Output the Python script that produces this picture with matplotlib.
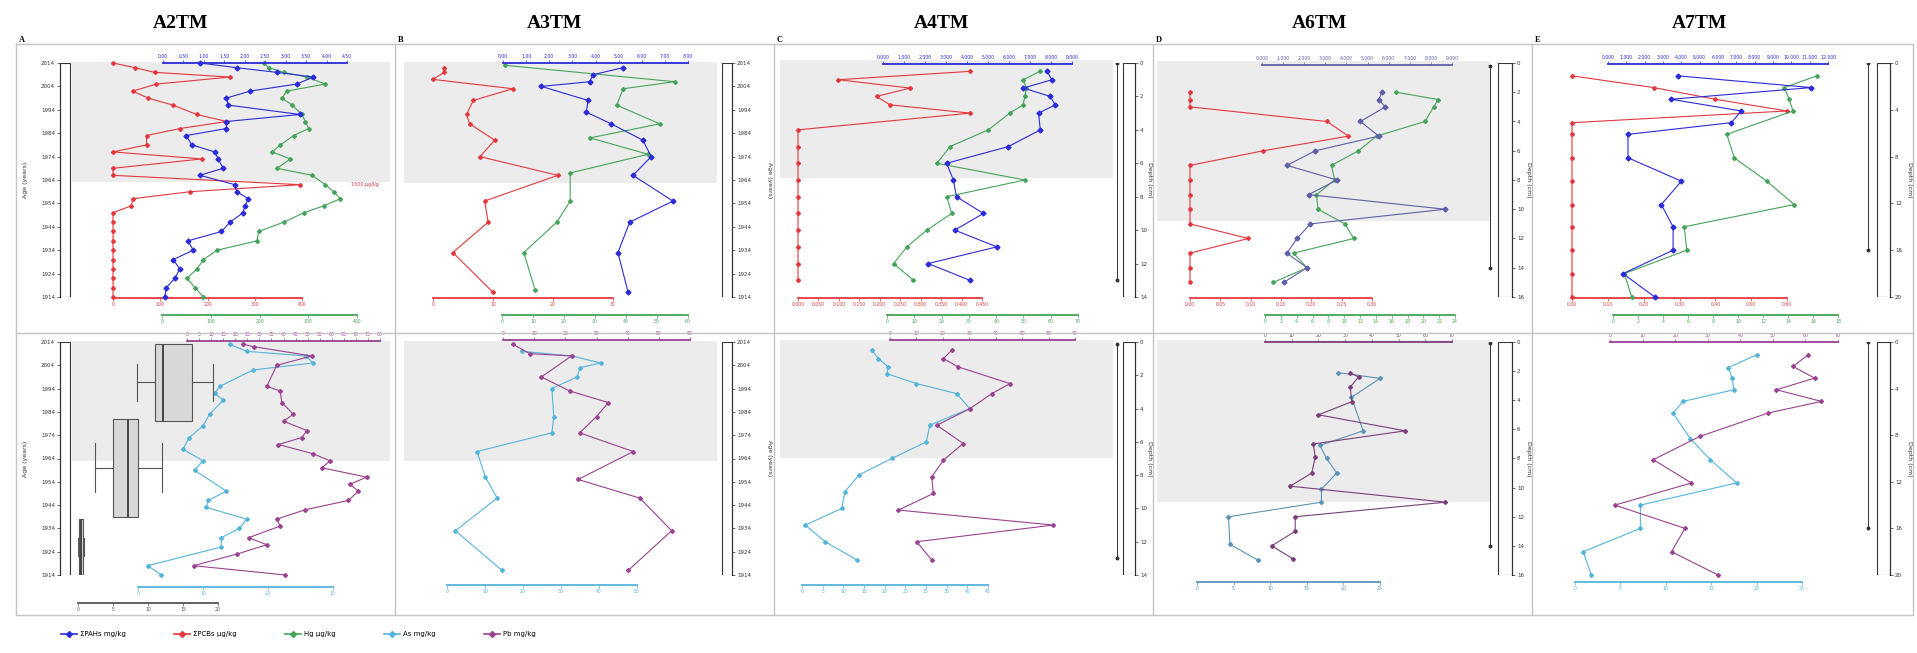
import numpy as np
import matplotlib.pyplot as plt
from matplotlib.lines import Line2D
from matplotlib.patches import Rectangle

# ---- data ----
PANEL_TITLES = ["A2TM", "A3TM", "A4TM", "A6TM", "A7TM"]
PANEL_LETTERS = ["A", "B", "C", "D", "E"]
LEGEND_LABELS = ["\u03a3PAHs mg/kg", "\u03a3PCBs \u03bcg/kg", "Hg \u03bcg/kg", "As mg/kg", "Pb mg/kg"]

AGE_TICKS = list(range(2014, 1913, -10))

# A2TM top (age)
A_TOP_AGE = [2014, 2012, 2010, 2008, 2005, 2002, 1999, 1996, 1992, 1989, 1986, 1983, 1979, 1976, 1973, 1969,
             1966, 1962, 1959, 1956, 1953, 1950, 1946, 1942, 1938, 1934, 1930, 1926, 1922, 1918, 1914]
A_TOP_PAH = [0.90, 1.80, 2.78, 3.68, 3.27, 2.13, 1.55, 1.60, 3.35, 1.55, 1.55, 0.57, 0.70, 1.27, 1.35, 1.47,
             0.90, 1.76, 1.80, 2.09, 2.00, 1.96, 1.64, 1.43, 0.61, 0.74, 0.25, 0.41, 0.29, 0.08, 0.04]
A_TOP_PCB = [0, 46, 88, 248, 92, 42, 74, 127, 177, 241, 142, 71, 71, 0, 188, 0,
             0, 396, 163, 42, 39, 0, 0, 0, 0, 0, 0, 0, 0, 0, 0]
A_TOP_HG = [209, 219, 250, 297, 335, 256, 246, 267, 287, 294, 301, 270, 243, 226, 263, 236,
            308, 335, 352, 366, 332, 291, 250, 198, 195, 113, 85, 72, 51, 68, 85]

# A2TM bottom (age)
A_BOT_PB_AGE = [2013, 2012, 2008, 2004, 1995, 1993, 1988, 1983, 1980, 1976, 1973, 1970, 1966, 1963,
                1960, 1956, 1953, 1950, 1946, 1942, 1938, 1935, 1930, 1927, 1923, 1918, 1914]
A_BOT_PB = [23.4, 27.6, 51.7, 37.2, 33.1, 38.6, 39.3, 44.1, 40.0, 49.7, 47.6, 37.9, 52.4, 59.3,
            55.9, 74.5, 67.6, 71.0, 66.9, 49.0, 37.2, 38.6, 25.5, 33.1, 20.7, 2.8, 40.7]
A_BOT_AS_AGE = [2013, 2010, 2008, 2005, 2002, 1995, 1992, 1989, 1983, 1978, 1973, 1968, 1963, 1959,
                1950, 1946, 1943, 1938, 1934, 1930, 1926, 1918, 1914]
A_BOT_AS = [14.1, 16.7, 25.9, 26.9, 17.7, 12.6, 11.8, 13.1, 11.0, 10.0, 7.9, 6.9, 10.0, 8.7,
            13.6, 10.8, 10.5, 16.7, 15.6, 12.8, 12.8, 1.5, 3.6]
A_BOX_AGE = [1996.7, 1960.0, 1926.0]
A_BOX_MED = [12.1, 7.1, 0.4]
A_BOX_Q1 = [11.0, 5.0, 0.1]
A_BOX_Q3 = [16.3, 8.6, 0.7]
A_BOX_LO = [8.4, 2.4, 0.0]
A_BOX_HI = [19.3, 12.0, 0.8]

# A3TM top (age)
B_TOP_PAH_AGE = [2012, 2009, 2006, 2004, 1998, 1993, 1988, 1981, 1974, 1966, 1955, 1946, 1933, 1916]
B_TOP_PAH = [5.19, 3.89, 3.75, 1.66, 3.68, 3.60, 4.68, 6.05, 6.41, 5.62, 7.35, 5.48, 4.97, 5.41]
B_TOP_HG_AGE = [2013, 2006, 2003, 1996, 1988, 1982, 1975, 1967, 1955, 1946, 1933, 1917]
B_TOP_HG = [1.1, 55.7, 39.1, 37.0, 50.9, 28.4, 47.1, 22.0, 22.0, 17.7, 7.0, 10.7]
B_TOP_PCB_AGE = [2012, 2010, 2007, 2003, 1998, 1992, 1988, 1981, 1974, 1966, 1955, 1946, 1933, 1916]
B_TOP_PCB = [1.9, 1.9, 0.0, 13.3, 6.7, 5.6, 6.1, 10.3, 7.8, 20.8, 8.6, 9.2, 3.3, 10.0]

# A3TM bottom (age)
B_BOT_PB_AGE = [2013, 2009, 2008, 1999, 1993, 1988, 1982, 1975, 1967, 1955, 1947, 1933, 1916]
B_BOT_PB = [3.2, 8.6, 22.0, 12.3, 21.4, 33.8, 30.0, 24.6, 41.8, 24.1, 43.9, 54.1, 40.2]
B_BOT_AS_AGE = [2010, 2008, 2005, 2003, 1999, 1994, 1982, 1975, 1967, 1956, 1947, 1933, 1916]
B_BOT_AS = [19.7, 32.9, 40.4, 35.1, 34.2, 27.6, 28.1, 27.6, 7.9, 10.1, 13.2, 2.2, 14.5]

# A4TM top (depth, cm)
C_TOP_DEPTH = [0.5, 1.0, 1.5, 2.0, 2.5, 3.0, 4.0, 5.0, 6.0, 7.0, 8.0, 9.0, 10.0, 11.0, 12.0, 13.0]
C_TOP_PAH = [7.81, 8.04, 6.69, 7.96, 8.20, 7.41, 7.49, 5.97, 3.03, 3.35, 3.50, 4.78, 3.42, 5.42, 2.15, 4.14]
C_TOP_HG = [56.0, 49.9, 51.1, 50.5, 49.9, 45.0, 37.1, 23.1, 18.3, 50.5, 21.9, 23.7, 14.6, 7.3, 2.4, 9.7]
C_TOP_PCB = [0.421, 0.098, 0.274, 0.192, 0.225, 0.421, 0, 0, 0, 0, 0, 0, 0, 0, 0, 0]

# A4TM bottom (depth)
C_BOT_PB_DEPTH = [0.5, 1.0, 1.5, 2.5, 3.1, 4.0, 5.0, 6.1, 7.1, 8.1, 9.1, 10.1, 11.0, 12.0, 13.1]
C_BOT_PB = [23.3, 20.2, 25.9, 45.4, 38.5, 30.3, 17.7, 27.7, 20.2, 15.8, 16.4, 3.2, 61.8, 10.1, 15.8]
C_BOT_AS_DEPTH = [0.5, 1.0, 1.5, 1.9, 2.5, 3.1, 4.0, 5.0, 6.0, 7.0, 8.0, 9.0, 10.0, 11.0, 12.0, 13.1]
C_BOT_AS = [16.9, 18.5, 20.9, 20.5, 27.7, 37.4, 40.6, 30.9, 30.1, 21.7, 13.7, 10.4, 9.6, 0.8, 5.6, 13.3]

# A6TM top (depth)
D_TOP_DEPTH = [2.0, 2.5, 3.0, 4.0, 5.0, 6.0, 7.0, 8.0, 9.0, 10.0, 11.0, 12.0, 13.0, 14.0, 15.0]
D_TOP_PAH = [5.68, 5.53, 5.84, 4.66, 5.53, 2.53, 1.18, 3.55, 2.21, 8.68, 2.29, 1.66, 1.18, 2.13, 1.03]
D_TOP_HG = [16.6, 21.9, 21.3, 20.2, 14.1, 11.8, 8.4, 8.8, 6.5, 6.7, 10.1, 11.2, 3.6, 5.3, 1.05]
D_TOP_PCB = [0, 0, 0, 0.226, 0.261, 0.121, 0, 0, 0, 0, 0, 0.096, 0, 0, 0]

# A6TM bottom (depth)
D_BOT_PB_DEPTH = [2.1, 2.4, 3.1, 4.1, 5.0, 6.1, 7.0, 7.9, 9.0, 9.9, 11.0, 12.0, 13.0, 14.0, 14.9]
D_BOT_PB = [31.9, 35.0, 31.9, 32.5, 20.0, 52.5, 18.1, 18.8, 17.5, 9.4, 67.5, 11.3, 11.3, 2.5, 10.6]
D_BOT_AS_DEPTH = [2.1, 2.5, 3.8, 6.1, 7.1, 8.0, 9.0, 10.1, 11.0, 12.0, 13.9, 15.0]
D_BOT_AS = [19.3, 25.0, 21.1, 22.7, 16.8, 17.7, 19.1, 17.0, 17.0, 4.3, 4.5, 8.4]

# A7TM top (depth)
E_TOP_DEPTH = [1.1, 2.1, 3.1, 4.1, 5.1, 6.1, 8.1, 10.1, 12.1, 14.0, 16.0, 18.0, 20.0]
E_TOP_PAH = [3.82, 11.09, 3.45, 7.27, 6.73, 1.09, 1.09, 4.00, 2.91, 3.55, 3.55, 0.82, 2.55]
E_TOP_PCB = [0, 0.228, 0.40, 0.60, 0, 0, 0, 0, 0, 0, 0, 0, 0]
E_TOP_HG_DEPTH = [1.1, 2.1, 3.1, 4.1, 6.1, 8.1, 10.1, 12.1, 14.0, 16.0, 18.0, 20.0]
E_TOP_HG = [16.3, 13.7, 14.1, 14.4, 9.1, 9.7, 12.3, 14.5, 5.7, 5.9, 0.9, 1.5]

# A7TM bottom (depth)
E_BOT_PB_DEPTH = [1.1, 2.1, 3.1, 4.1, 5.1, 6.1, 8.1, 10.1, 12.1, 14.0, 16.0, 18.0, 20.0]
E_BOT_PB = [60.8, 56.2, 62.8, 51.1, 64.9, 48.5, 27.6, 13.3, 25.0, 1.5, 23.0, 18.9, 33.2]
E_BOT_AS_DEPTH = [1.1, 2.2, 3.1, 4.1, 5.1, 6.1, 8.3, 10.1, 12.1, 14.0, 16.0, 18.0, 20.0]
E_BOT_AS = [20.0, 16.9, 17.3, 17.5, 11.9, 10.8, 12.7, 14.9, 17.8, 7.2, 7.2, 0.9, 1.8]

# shaded (recent) interval limits per panel, top and bottom rows
SHADE_TOP = [1963, 1962.6, 6.9, 10.8, None]
SHADE_BOT = [1963, 1963, 7.0, 11.0, None]

# ---- styling / layout ----
W, H = 1917, 653
C_PAH = "#2b2bd9"
C_PCB = "#e5383e"
C_HG = "#46a35a"
C_AS = "#55b4da"
C_PB = "#9b4290"
SHADE = "#ececec"
FRAME = "#c4c4c4"
TOP_ROW = (63, 297)
BOT_ROW = (342, 575)

fig = plt.figure(figsize=(W / 100, H / 100), dpi=100)


def px_axes(x0, y0, x1, y1):
    return fig.add_axes([x0 / W, 1 - y1 / H, (x1 - x0) / W, (y1 - y0) / H])


def fig_line(xs, ys, **kw):
    fig.add_artist(Line2D([x / W for x in xs], [1 - y / H for y in ys],
                          transform=fig.transFigure, **kw))


def series(row, ylim, x0, x1, axis_y, side, xmax, step, fmt, color, y=None, v=None, ms=2.0):
    top, bot = row
    ax = px_axes(x0, top, x1, bot)
    ax.set_xlim(0, xmax)
    ax.set_ylim(*ylim)
    ax.patch.set_visible(False)
    for s in ax.spines.values():
        s.set_visible(False)
    ax.set_yticks([])
    sp = ax.spines[side]
    sp.set_visible(True)
    sp.set_position(("axes", (bot - axis_y) / (bot - top)))
    sp.set_color(color)
    sp.set_linewidth(1.3)
    ax.xaxis.set_ticks_position(side)
    ticks = np.arange(0, xmax + step / 2, step)
    ax.set_xticks(ticks)
    ax.set_xticklabels([fmt % t for t in ticks])
    ax.tick_params(axis="x", length=2, width=0.5, color=color, labelsize=3.3,
                   labelcolor=color, pad=1)
    if y is not None:
        ax.plot(v, y, "-D", color=color, ms=ms, lw=0.8, mec=color, clip_on=False)
    return ax


def cell(row, cx0, cx1, ylim, yticks, spine_x, side, bar, shade_lim, shade_x,
         ylabel, ylabel_x, rng=None, rng_x=None):
    top, bot = row
    ax = px_axes(cx0, top, cx1, bot)
    ax.set_xlim(cx0, cx1)
    ax.set_ylim(*ylim)
    ax.patch.set_visible(False)
    for s in ax.spines.values():
        s.set_visible(False)
    ax.set_xticks([])
    ylo, yhi = min(ylim), max(ylim)
    if shade_lim is not None:
        if ylim[0] < ylim[1]:  # age axis, recent years on top
            ax.add_patch(Rectangle((shade_x[0], shade_lim), shade_x[1] - shade_x[0],
                                   yhi - shade_lim + 0.6, color=SHADE, lw=0, zorder=0, clip_on=False))
        else:
            ax.add_patch(Rectangle((shade_x[0], -0.15), shade_x[1] - shade_x[0],
                                   shade_lim + 0.15, color=SHADE, lw=0, zorder=0, clip_on=False))
    ax.add_patch(Rectangle((bar[0], ylo), bar[1] - bar[0], yhi - ylo, fill=False,
                           ec="#333333", lw=0.8, zorder=3))
    sp = ax.spines[side]
    sp.set_visible(True)
    sp.set_position(("data", spine_x))
    sp.set_linewidth(0.8)
    ax.yaxis.set_ticks_position(side)
    ax.set_yticks(yticks)
    ax.set_yticklabels([str(t) for t in yticks])
    ax.tick_params(axis="y", length=2, width=0.5, labelsize=4, pad=1.5, colors="#333333")
    if rng is not None:
        ax.plot([rng_x, rng_x], rng, "-o", color="#333333", lw=0.7, ms=1.8)
    rot = 90 if side == "left" else 270
    fig.text(ylabel_x / W, 1 - (top + bot) / 2 / H, ylabel, rotation=rot, fontsize=4.5,
             ha="center", va="center", color="#333333")
    return ax


AGE_LIM = (1914, 2014)
COLS = [(16, 395), (395, 774), (774, 1153), (1153, 1532), (1532, 1913)]

# ---------------- Panel A: A2TM ----------------
for row, lim in [(TOP_ROW, SHADE_TOP[0]), (BOT_ROW, SHADE_BOT[0])]:
    cell(row, 16, 395, AGE_LIM, AGE_TICKS, 60, "left", (60, 70), lim, (72, 390), "Age (years)", 25)
series(TOP_ROW, AGE_LIM, 113, 302, 298, "bottom", 400, 100, "%d", C_PCB, A_TOP_AGE, A_TOP_PCB)
series(TOP_ROW, AGE_LIM, 162, 357, 315, "bottom", 400, 100, "%d", C_HG, A_TOP_AGE, A_TOP_HG)
axp = series(TOP_ROW, AGE_LIM, 163, 347, 63, "top", 4.5, 0.5, "%.2f", C_PAH, A_TOP_AGE, A_TOP_PAH, ms=2.5)
axp.annotate("1500 \u03bcg/kg", xy=(4.5, A_TOP_AGE[A_TOP_PCB.index(max(A_TOP_PCB))]),
             fontsize=3.5, color=C_PCB, va="center", xytext=(3, 0), textcoords="offset points")
series(BOT_ROW, AGE_LIM, 138, 333, 587, "bottom", 30, 10, "%d", C_AS, A_BOT_AS_AGE, A_BOT_AS)
series(BOT_ROW, AGE_LIM, 187, 380, 341, "top", 80, 5, "%d", C_PB, A_BOT_PB_AGE, A_BOT_PB)
axb = series(BOT_ROW, AGE_LIM, 78, 218, 603, "bottom", 20, 5, "%d", "#555555")
stats = [dict(med=m, q1=a, q3=b, whislo=lo, whishi=hi)
         for m, a, b, lo, hi in zip(A_BOX_MED, A_BOX_Q1, A_BOX_Q3, A_BOX_LO, A_BOX_HI)]
bkw = dict(positions=A_BOX_AGE, widths=[33, 42, 24], capwidths=[16, 21, 8], patch_artist=True,
           showfliers=False, manage_ticks=False,
           boxprops=dict(facecolor="#d8d8d8", edgecolor="#555555", lw=0.8),
           medianprops=dict(color="#444444", lw=1.4),
           whiskerprops=dict(color="#555555", lw=0.8), capprops=dict(color="#555555", lw=0.8))
try:
    axb.bxp(stats, orientation="horizontal", **bkw)
except TypeError:
    axb.bxp(stats, vert=False, **bkw)
axb.set_ylim(*AGE_LIM)
axb.set_yticks([])

# ---------------- Panel B: A3TM ----------------
for row, lim in [(TOP_ROW, SHADE_TOP[1]), (BOT_ROW, SHADE_BOT[1])]:
    cell(row, 395, 774, AGE_LIM, AGE_TICKS, 732, "right", (722, 732), lim, (404, 717), "Age (years)", 769)
series(TOP_ROW, AGE_LIM, 433, 613, 298, "bottom", 30, 10, "%d", C_PCB, B_TOP_PCB_AGE, B_TOP_PCB)
series(TOP_ROW, AGE_LIM, 502, 688, 315, "bottom", 60, 10, "%d", C_HG, B_TOP_HG_AGE, B_TOP_HG)
series(TOP_ROW, AGE_LIM, 503, 688, 63, "top", 8, 1, "%.2f", C_PAH, B_TOP_PAH_AGE, B_TOP_PAH, ms=2.5)
series(BOT_ROW, AGE_LIM, 447, 637, 585, "bottom", 50, 10, "%d", C_AS, B_BOT_AS_AGE, B_BOT_AS)
series(BOT_ROW, AGE_LIM, 503, 690, 340, "top", 60, 10, "%d", C_PB, B_BOT_PB_AGE, B_BOT_PB)

# ---------------- Panel C: A4TM ----------------
C_LIM = (14, 0)
for row, lim, rng in [(TOP_ROW, SHADE_TOP[2], (0, 13)), (BOT_ROW, SHADE_BOT[2], (0.1, 13))]:
    cell(row, 774, 1153, C_LIM, list(range(0, 15, 2)), 1135, "right", (1123, 1135), lim, (780, 1113),
         "Depth (cm)", 1149, rng, 1117)
series(TOP_ROW, C_LIM, 798, 982, 298, "bottom", 0.45, 0.05, "%.3f", C_PCB, C_TOP_DEPTH, C_TOP_PCB)
series(TOP_ROW, C_LIM, 887, 1078, 315, "bottom", 70, 10, "%d", C_HG, C_TOP_DEPTH, C_TOP_HG)
series(TOP_ROW, C_LIM, 883, 1072, 64, "top", 9, 1, "%.3f", C_PAH, C_TOP_DEPTH, C_TOP_PAH, ms=2.5)
series(BOT_ROW, C_LIM, 802, 988, 585, "bottom", 45, 5, "%d", C_AS, C_BOT_AS_DEPTH, C_BOT_AS)
series(BOT_ROW, C_LIM, 890, 1075, 340, "top", 70, 10, "%d", C_PB, C_BOT_PB_DEPTH, C_BOT_PB)

# ---------------- Panel D: A6TM ----------------
D_LIM = (16, 0)
for row, lim, rng in [(TOP_ROW, SHADE_TOP[3], (0.2, 14)), (BOT_ROW, SHADE_BOT[3], (0.1, 14))]:
    cell(row, 1153, 1532, D_LIM, list(range(0, 17, 2)), 1512, "right", (1498, 1512), lim, (1157, 1490),
         "Depth (cm)", 1528, rng, 1490)
series(TOP_ROW, D_LIM, 1190, 1372, 298, "bottom", 0.30, 0.05, "%.2f", C_PCB, D_TOP_DEPTH, D_TOP_PCB)
series(TOP_ROW, D_LIM, 1265, 1455, 315, "bottom", 24, 2, "%d", C_HG, D_TOP_DEPTH, D_TOP_HG)
series(TOP_ROW, D_LIM, 1262, 1452, 65, "top", 9, 1, "%.3f", "#5f5fa8", D_TOP_DEPTH, D_TOP_PAH, ms=2.5)
series(BOT_ROW, D_LIM, 1197, 1380, 582, "bottom", 25, 5, "%d", "#5a93b8", D_BOT_AS_DEPTH, D_BOT_AS)
series(BOT_ROW, D_LIM, 1265, 1452, 342, "top", 70, 10, "%d", "#7a3f7a", D_BOT_PB_DEPTH, D_BOT_PB)

# ---------------- Panel E: A7TM ----------------
E_LIM = (20, 0)
for row, lim, rng in [(TOP_ROW, SHADE_TOP[4], (0, 16)), (BOT_ROW, SHADE_BOT[4], (0, 16))]:
    cell(row, 1532, 1913, E_LIM, list(range(0, 21, 4)), 1890, "right", (1877, 1890), lim, None,
         "Depth (cm)", 1909, rng, 1868)
series(TOP_ROW, E_LIM, 1572, 1787, 298, "bottom", 0.6, 0.1, "%.2f", C_PCB, E_TOP_DEPTH, E_TOP_PCB)
series(TOP_ROW, E_LIM, 1613, 1838, 315, "bottom", 18, 2, "%d", C_HG, E_TOP_HG_DEPTH, E_TOP_HG)
series(TOP_ROW, E_LIM, 1608, 1828, 64, "top", 12, 1, "%.3f", C_PAH, E_TOP_DEPTH, E_TOP_PAH, ms=2.5)
series(BOT_ROW, E_LIM, 1575, 1802, 582, "bottom", 25, 5, "%d", C_AS, E_BOT_AS_DEPTH, E_BOT_AS)
series(BOT_ROW, E_LIM, 1610, 1838, 342, "top", 70, 10, "%d", C_PB, E_BOT_PB_DEPTH, E_BOT_PB)

# ---------------- frame, titles, legend ----------------
FRAME_TOP, FRAME_MID, FRAME_BOT = 44, 333, 615
fig_line([16, 1913, 1913, 16, 16], [FRAME_TOP, FRAME_TOP, FRAME_BOT, FRAME_BOT, FRAME_TOP], color=FRAME, lw=1)
fig_line([16, 1913], [FRAME_MID, FRAME_MID], color=FRAME, lw=1)
for x0, _ in COLS[1:]:
    fig_line([x0, x0], [FRAME_TOP, FRAME_BOT], color=FRAME, lw=1)

TITLE_X = [181, 554, 941, 1320, 1699]
for (x0, _), xt, title, letter in zip(COLS, TITLE_X, PANEL_TITLES, PANEL_LETTERS):
    fig.text(xt / W, 1 - 24 / H, title, ha="center", va="center", fontsize=14,
             fontweight="bold", family="Liberation Serif")
    fig.text((x0 + 3) / W, 1 - 40 / H, letter, ha="left", va="center", fontsize=6,
             fontweight="bold", family="Liberation Serif")

handles = [Line2D([], [], color=c, marker="D", ms=3, lw=1.2) for c in [C_PAH, C_PCB, C_HG, C_AS, C_PB]]
fig.legend(handles, LEGEND_LABELS, loc="center left", bbox_to_anchor=(55 / W, 1 - 634 / H),
           ncol=5, frameon=False, fontsize=5, handlelength=2.2, columnspacing=7, handletextpad=0.5)

fig.savefig("out.png", dpi=100)
